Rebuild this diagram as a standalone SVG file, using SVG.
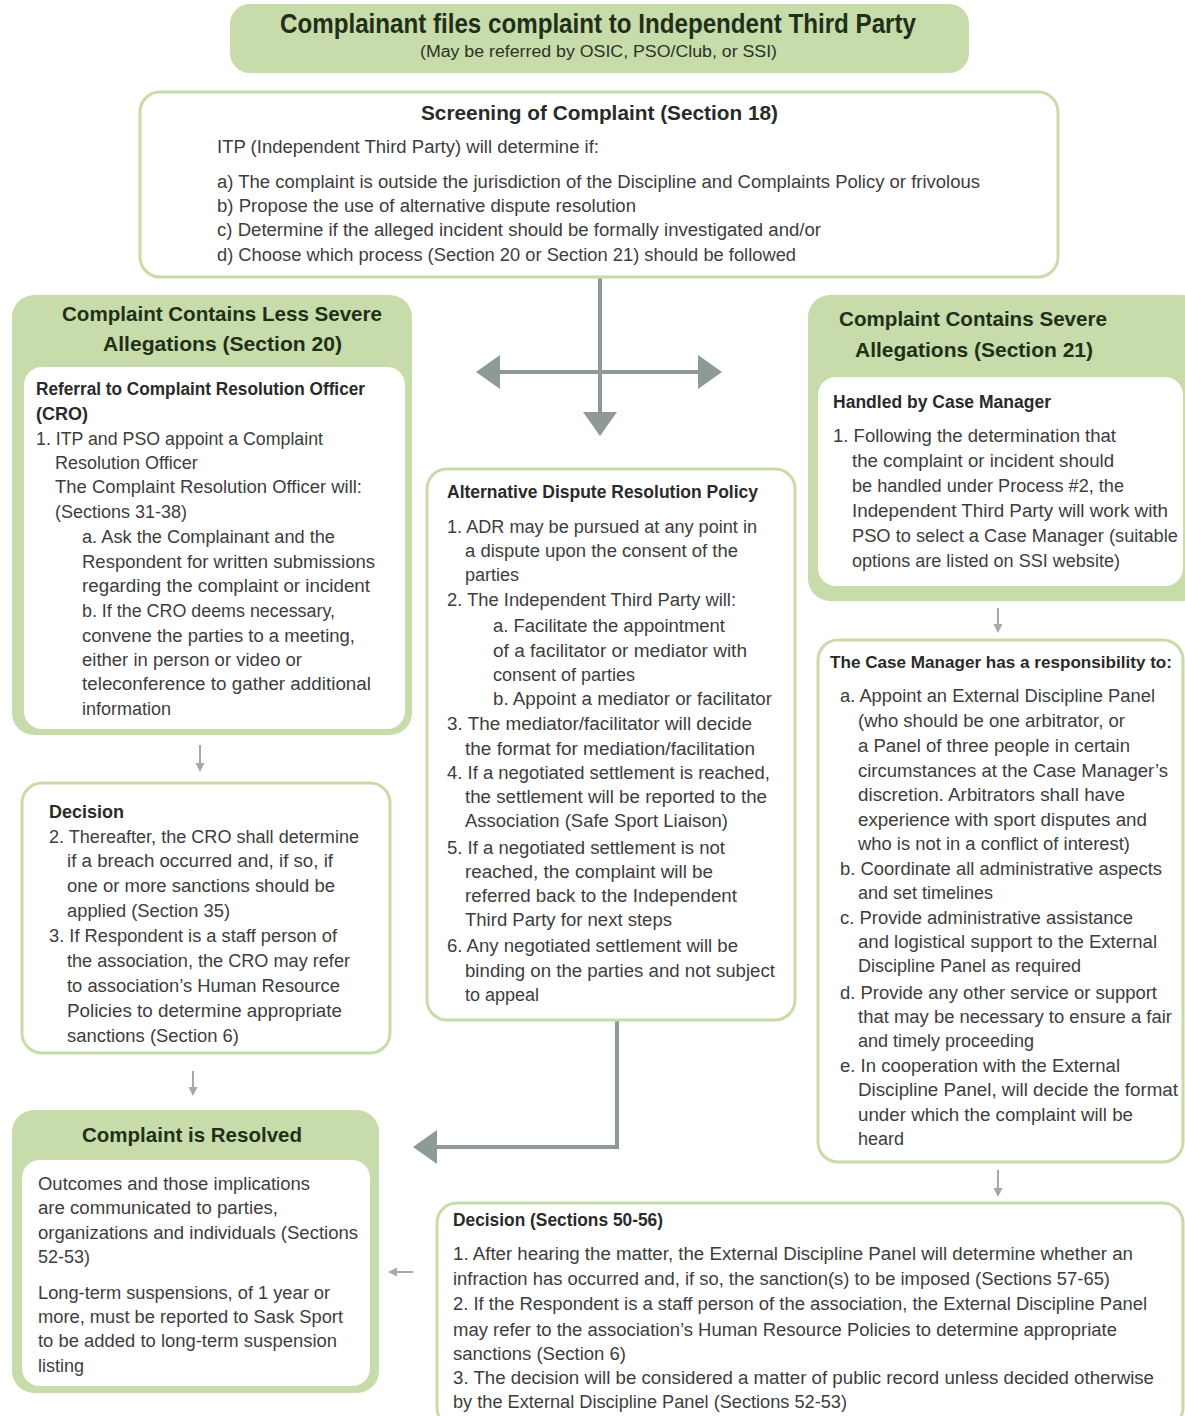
<svg xmlns="http://www.w3.org/2000/svg" width="1185" height="1416" viewBox="0 0 1185 1416">
<defs>
<style>
.g{fill:#c8dbaa}
.w{fill:#ffffff}
.ws{fill:#ffffff;stroke:#c8dbaa;stroke-width:3}
text{font-family:"Liberation Sans",Arial,sans-serif;font-size:18px;fill:#3d3d3d}
.b{font-weight:bold;fill:#2a2a2a}
.h{font-weight:bold;font-size:21px;fill:#1f3019}
.big{fill:none;stroke:#8e9a94;stroke-width:4}
.sm{fill:none;stroke:#a3aba6;stroke-width:2}
</style>
<marker id="bh" viewBox="0 0 24 34" refX="0" refY="17" markerWidth="24" markerHeight="34" markerUnits="userSpaceOnUse" orient="auto"><path d="M0,0 L24,17 L0,34 z" fill="#8e9a94"/></marker>
<marker id="sh" viewBox="0 0 10 10" refX="0" refY="5" markerWidth="9" markerHeight="10" markerUnits="userSpaceOnUse" orient="auto"><path d="M0,0 L10,5 L0,10 z" fill="#a3aba6"/></marker>
</defs>
<rect width="1185" height="1416" fill="#ffffff"/>

<g id="connectors">
<path class="big" d="M600,277 V412" marker-end="url(#bh)"/>
<path class="big" d="M600,372 H500" marker-end="url(#bh)"/>
<path class="big" d="M600,372 H698" marker-end="url(#bh)"/>
<path class="big" d="M617,1020 V1147 H437" marker-end="url(#bh)"/>
<path class="sm" d="M200,745 V763" marker-end="url(#sh)"/>
<path class="sm" d="M193,1071 V1087" marker-end="url(#sh)"/>
<path class="sm" d="M998,608 V624" marker-end="url(#sh)"/>
<path class="sm" d="M998,1170 V1188" marker-end="url(#sh)"/>
<path class="sm" d="M413,1272 H397" marker-end="url(#sh)"/>
</g>

<g id="start">
<rect class="g" x="230" y="4" width="739" height="69" rx="20"/>
<text class="h" x="280" y="33" style="font-size:27px" textLength="636" lengthAdjust="spacingAndGlyphs">Complainant files complaint to Independent Third Party</text>
<text x="420" y="57" style="font-size:16px;fill:#2a3326" textLength="357" lengthAdjust="spacingAndGlyphs">(May be referred by OSIC, PSO/Club, or SSI)</text>
</g>

<g id="screening">
<rect class="ws" x="140" y="92" width="918" height="185" rx="20"/>
<text class="b" x="421" y="120" style="font-size:21px" textLength="357" lengthAdjust="spacingAndGlyphs">Screening of Complaint (Section 18)</text>
<text x="217" y="153" textLength="382" lengthAdjust="spacingAndGlyphs">ITP (Independent Third Party) will determine if:</text>
<text x="217" y="188" textLength="763" lengthAdjust="spacingAndGlyphs">a) The complaint is outside the jurisdiction of the Discipline and Complaints Policy or frivolous</text>
<text x="217" y="212" textLength="419" lengthAdjust="spacingAndGlyphs">b) Propose the use of alternative dispute resolution</text>
<text x="217" y="236" textLength="604" lengthAdjust="spacingAndGlyphs">c) Determine if the alleged incident should be formally investigated and/or</text>
<text x="217" y="261" textLength="579" lengthAdjust="spacingAndGlyphs">d) Choose which process (Section 20 or Section 21) should be followed</text>
</g>

<g id="less-severe">
<rect class="g" x="12" y="295" width="400" height="440" rx="22"/>
<text class="h" x="62" y="321" textLength="320" lengthAdjust="spacingAndGlyphs">Complaint Contains Less Severe</text>
<text class="h" x="103" y="351" textLength="239" lengthAdjust="spacingAndGlyphs">Allegations (Section 20)</text>
<rect class="w" x="24" y="367" width="381" height="362" rx="18"/>
<text class="b" x="36" y="395" textLength="329" lengthAdjust="spacingAndGlyphs">Referral to Complaint Resolution Officer</text>
<text class="b" x="36" y="420">(CRO)</text>
<text x="36" y="445" textLength="287" lengthAdjust="spacingAndGlyphs">1. ITP and PSO appoint a Complaint</text>
<text x="55" y="469">Resolution Officer</text>
<text x="55" y="493" textLength="307" lengthAdjust="spacingAndGlyphs">The Complaint Resolution Officer will:</text>
<text x="55" y="518">(Sections 31-38)</text>
<text x="82" y="543" textLength="253" lengthAdjust="spacingAndGlyphs">a. Ask the Complainant and the</text>
<text x="82" y="568" textLength="293" lengthAdjust="spacingAndGlyphs">Respondent for written submissions</text>
<text x="82" y="592" textLength="288" lengthAdjust="spacingAndGlyphs">regarding the complaint or incident</text>
<text x="82" y="617" textLength="253" lengthAdjust="spacingAndGlyphs">b. If the CRO deems necessary,</text>
<text x="82" y="642" textLength="273" lengthAdjust="spacingAndGlyphs">convene the parties to a meeting,</text>
<text x="82" y="666" textLength="220" lengthAdjust="spacingAndGlyphs">either in person or video or</text>
<text x="82" y="690" textLength="289" lengthAdjust="spacingAndGlyphs">teleconference to gather additional</text>
<text x="82" y="715">information</text>
</g>

<g id="decision-cro">
<rect class="ws" x="22" y="783" width="368" height="270" rx="20"/>
<text class="b" x="49" y="818">Decision</text>
<text x="49" y="843" textLength="310" lengthAdjust="spacingAndGlyphs">2. Thereafter, the CRO shall determine</text>
<text x="67" y="867" textLength="266" lengthAdjust="spacingAndGlyphs">if a breach occurred and, if so, if</text>
<text x="67" y="892" textLength="268" lengthAdjust="spacingAndGlyphs">one or more sanctions should be</text>
<text x="67" y="917" textLength="163" lengthAdjust="spacingAndGlyphs">applied (Section 35)</text>
<text x="49" y="942" textLength="288" lengthAdjust="spacingAndGlyphs">3. If Respondent is a staff person of</text>
<text x="67" y="967" textLength="283" lengthAdjust="spacingAndGlyphs">the association, the CRO may refer</text>
<text x="67" y="992" textLength="273" lengthAdjust="spacingAndGlyphs">to association’s Human Resource</text>
<text x="67" y="1017" textLength="275" lengthAdjust="spacingAndGlyphs">Policies to determine appropriate</text>
<text x="67" y="1042" textLength="172" lengthAdjust="spacingAndGlyphs">sanctions (Section 6)</text>
</g>

<g id="resolved">
<rect class="g" x="12" y="1110" width="367" height="283" rx="22"/>
<text class="h" x="82" y="1142" textLength="220" lengthAdjust="spacingAndGlyphs">Complaint is Resolved</text>
<rect class="w" x="22" y="1160" width="348" height="226" rx="18"/>
<text x="38" y="1190" textLength="272" lengthAdjust="spacingAndGlyphs">Outcomes and those implications</text>
<text x="38" y="1214" textLength="240" lengthAdjust="spacingAndGlyphs">are communicated to parties,</text>
<text x="38" y="1239" textLength="320" lengthAdjust="spacingAndGlyphs">organizations and individuals (Sections</text>
<text x="38" y="1263">52-53)</text>
<text x="38" y="1299" textLength="292" lengthAdjust="spacingAndGlyphs">Long-term suspensions, of 1 year or</text>
<text x="38" y="1323" textLength="305" lengthAdjust="spacingAndGlyphs">more, must be reported to Sask Sport</text>
<text x="38" y="1347" textLength="299" lengthAdjust="spacingAndGlyphs">to be added to long-term suspension</text>
<text x="38" y="1372">listing</text>
</g>

<g id="adr">
<rect class="ws" x="427" y="469" width="368" height="551" rx="20"/>
<text class="b" x="447" y="498" textLength="311" lengthAdjust="spacingAndGlyphs">Alternative Dispute Resolution Policy</text>
<text x="447" y="533" textLength="310" lengthAdjust="spacingAndGlyphs">1. ADR may be pursued at any point in</text>
<text x="465" y="557" textLength="273" lengthAdjust="spacingAndGlyphs">a dispute upon the consent of the</text>
<text x="465" y="581">parties</text>
<text x="447" y="606" textLength="289" lengthAdjust="spacingAndGlyphs">2. The Independent Third Party will:</text>
<text x="493" y="632" textLength="232" lengthAdjust="spacingAndGlyphs">a. Facilitate the appointment</text>
<text x="493" y="657" textLength="254" lengthAdjust="spacingAndGlyphs">of a facilitator or mediator with</text>
<text x="493" y="681">consent of parties</text>
<text x="493" y="705" textLength="279" lengthAdjust="spacingAndGlyphs">b. Appoint a mediator or facilitator</text>
<text x="447" y="730" textLength="305" lengthAdjust="spacingAndGlyphs">3. The mediator/facilitator will decide</text>
<text x="465" y="755" textLength="290" lengthAdjust="spacingAndGlyphs">the format for mediation/facilitation</text>
<text x="447" y="779" textLength="323" lengthAdjust="spacingAndGlyphs">4. If a negotiated settlement is reached,</text>
<text x="465" y="803" textLength="302" lengthAdjust="spacingAndGlyphs">the settlement will be reported to the</text>
<text x="465" y="827" textLength="263" lengthAdjust="spacingAndGlyphs">Association (Safe Sport Liaison)</text>
<text x="447" y="854" textLength="278" lengthAdjust="spacingAndGlyphs">5. If a negotiated settlement is not</text>
<text x="465" y="878" textLength="248" lengthAdjust="spacingAndGlyphs">reached, the complaint will be</text>
<text x="465" y="902" textLength="272" lengthAdjust="spacingAndGlyphs">referred back to the Independent</text>
<text x="465" y="926" textLength="207" lengthAdjust="spacingAndGlyphs">Third Party for next steps</text>
<text x="447" y="952" textLength="291" lengthAdjust="spacingAndGlyphs">6. Any negotiated settlement will be</text>
<text x="465" y="977" textLength="310" lengthAdjust="spacingAndGlyphs">binding on the parties and not subject</text>
<text x="465" y="1001">to appeal</text>
</g>

<g id="severe">
<rect class="g" x="808" y="295" width="395" height="306" rx="22"/>
<text class="h" x="839" y="326" textLength="268" lengthAdjust="spacingAndGlyphs">Complaint Contains Severe</text>
<text class="h" x="855" y="357" textLength="238" lengthAdjust="spacingAndGlyphs">Allegations (Section 21)</text>
<rect class="w" x="818" y="377" width="365" height="209" rx="18"/>
<text class="b" x="833" y="408" textLength="218" lengthAdjust="spacingAndGlyphs">Handled by Case Manager</text>
<text x="833" y="442" textLength="283" lengthAdjust="spacingAndGlyphs">1. Following the determination that</text>
<text x="852" y="467" textLength="262" lengthAdjust="spacingAndGlyphs">the complaint or incident should</text>
<text x="852" y="492" textLength="272" lengthAdjust="spacingAndGlyphs">be handled under Process #2, the</text>
<text x="852" y="517" textLength="316" lengthAdjust="spacingAndGlyphs">Independent Third Party will work with</text>
<text x="852" y="542" textLength="326" lengthAdjust="spacingAndGlyphs">PSO to select a Case Manager (suitable</text>
<text x="852" y="567" textLength="268" lengthAdjust="spacingAndGlyphs">options are listed on SSI website)</text>
</g>

<g id="case-manager">
<rect class="ws" x="818" y="640" width="365" height="522" rx="20"/>
<text class="b" x="830" y="668" style="font-size:17px" textLength="342" lengthAdjust="spacingAndGlyphs">The Case Manager has a responsibility to:</text>
<text x="840" y="702" textLength="315" lengthAdjust="spacingAndGlyphs">a. Appoint an External Discipline Panel</text>
<text x="858" y="727" textLength="267" lengthAdjust="spacingAndGlyphs">(who should be one arbitrator, or</text>
<text x="858" y="752" textLength="272" lengthAdjust="spacingAndGlyphs">a Panel of three people in certain</text>
<text x="858" y="777" textLength="310" lengthAdjust="spacingAndGlyphs">circumstances at the Case Manager’s</text>
<text x="858" y="801" textLength="267" lengthAdjust="spacingAndGlyphs">discretion. Arbitrators shall have</text>
<text x="858" y="826" textLength="289" lengthAdjust="spacingAndGlyphs">experience with sport disputes and</text>
<text x="858" y="850" textLength="272" lengthAdjust="spacingAndGlyphs">who is not in a conflict of interest)</text>
<text x="840" y="875" textLength="322" lengthAdjust="spacingAndGlyphs">b. Coordinate all administrative aspects</text>
<text x="858" y="899">and set timelines</text>
<text x="840" y="924" textLength="293" lengthAdjust="spacingAndGlyphs">c. Provide administrative assistance</text>
<text x="858" y="948" textLength="299" lengthAdjust="spacingAndGlyphs">and logistical support to the External</text>
<text x="858" y="972">Discipline Panel as required</text>
<text x="840" y="999" textLength="317" lengthAdjust="spacingAndGlyphs">d. Provide any other service or support</text>
<text x="858" y="1023" textLength="314" lengthAdjust="spacingAndGlyphs">that may be necessary to ensure a fair</text>
<text x="858" y="1047">and timely proceeding</text>
<text x="840" y="1072" textLength="280" lengthAdjust="spacingAndGlyphs">e. In cooperation with the External</text>
<text x="858" y="1096" textLength="320" lengthAdjust="spacingAndGlyphs">Discipline Panel, will decide the format</text>
<text x="858" y="1121" textLength="275" lengthAdjust="spacingAndGlyphs">under which the complaint will be</text>
<text x="858" y="1145">heard</text>
</g>

<g id="decision-panel">
<rect class="ws" x="437" y="1203" width="746" height="225" rx="20"/>
<text class="b" x="453" y="1226" textLength="210" lengthAdjust="spacingAndGlyphs">Decision (Sections 50-56)</text>
<text x="453" y="1260" textLength="680" lengthAdjust="spacingAndGlyphs">1. After hearing the matter, the External Discipline Panel will determine whether an</text>
<text x="453" y="1285" textLength="657" lengthAdjust="spacingAndGlyphs">infraction has occurred and, if so, the sanction(s) to be imposed (Sections 57-65)</text>
<text x="453" y="1310" textLength="694" lengthAdjust="spacingAndGlyphs">2. If the Respondent is a staff person of the association, the External Discipline Panel</text>
<text x="453" y="1336" textLength="664" lengthAdjust="spacingAndGlyphs">may refer to the association’s Human Resource Policies to determine appropriate</text>
<text x="453" y="1360" textLength="173" lengthAdjust="spacingAndGlyphs">sanctions (Section 6)</text>
<text x="453" y="1384" textLength="701" lengthAdjust="spacingAndGlyphs">3. The decision will be considered a matter of public record unless decided otherwise</text>
<text x="453" y="1408" textLength="394" lengthAdjust="spacingAndGlyphs">by the External Discipline Panel (Sections 52-53)</text>
</g>
</svg>
